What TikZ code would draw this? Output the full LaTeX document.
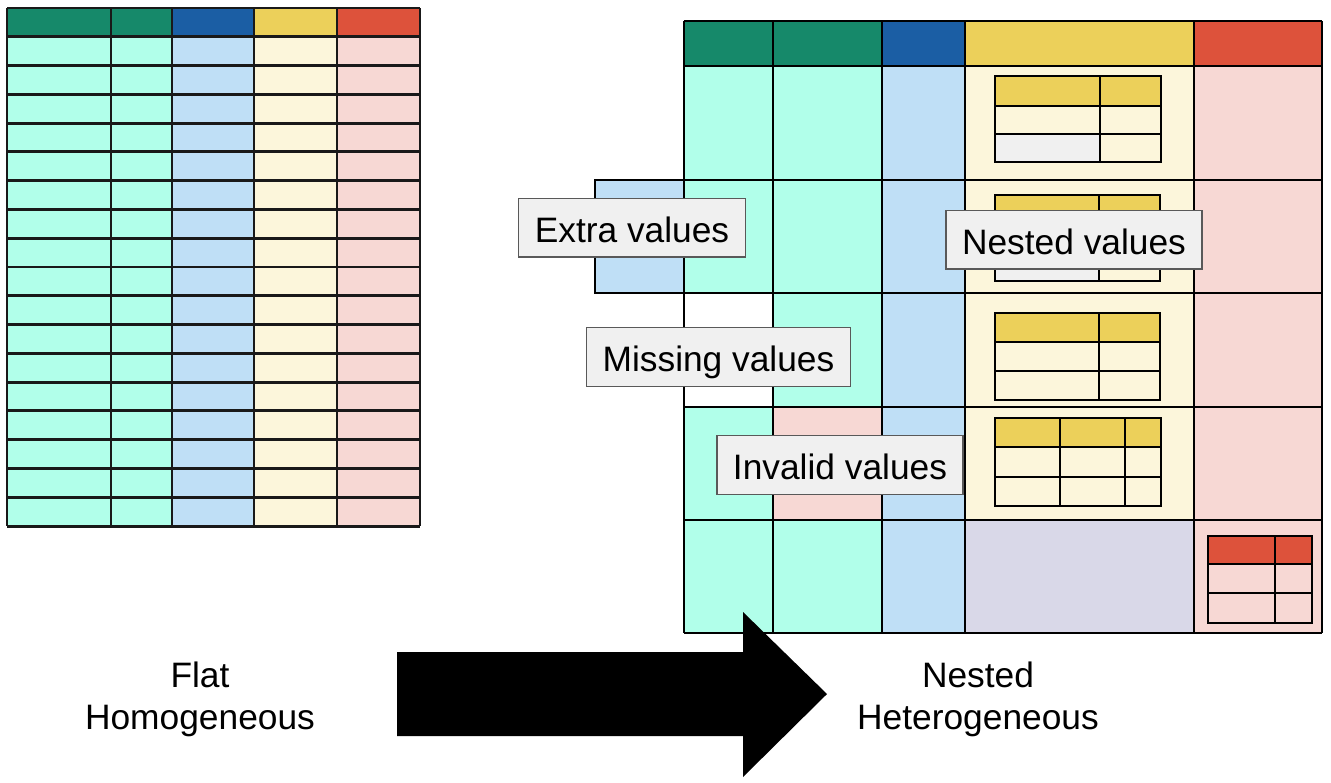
\documentclass[tikz,border=0pt]{standalone}
\usepackage{fontspec}
\setmainfont{Liberation Sans}
\definecolor{darkgreen}{RGB}{22,137,106}
\definecolor{darkblue}{RGB}{27,94,164}
\definecolor{darkyellow}{RGB}{236,208,90}
\definecolor{darkred}{RGB}{221,82,59}
\definecolor{lightgreen}{RGB}{177,255,234}
\definecolor{lightblue}{RGB}{191,223,246}
\definecolor{lightyellow}{RGB}{252,246,219}
\definecolor{lightred}{RGB}{247,216,212}
\definecolor{lavender}{RGB}{217,216,232}
\definecolor{lightgray}{RGB}{240,240,240}
\tikzset{
  flatline/.style={line width=2.2pt, color=black!90},
  gridline/.style={line width=1.5pt, color=black},
  innerline/.style={line width=1.8pt, color=black},
  callout/.style={draw=black!65, line width=1pt, fill=lightgray, inner xsep=12pt,
    text height=22pt, text depth=0pt, minimum height=44pt, font=\fontsize{26.5}{31.5}\selectfont},
  caption/.style={align=center, font=\fontsize{26.5}{31.5}\selectfont}
}
\begin{document}
\begin{tikzpicture}[x=0.75pt,y=0.75pt,yscale=-1,xscale=1]
\useasboundingbox (0,0) rectangle (1331,782);

%Flat table: column fills
\foreach \xa/\xb/\hd/\bd in {7/111/darkgreen/lightgreen, 111/172/darkgreen/lightgreen, 172/254/darkblue/lightblue, 254/337/darkyellow/lightyellow, 337/420/darkred/lightred}{
  \fill [\hd] (\xa,8) rectangle (\xb,36.78) ;
  \fill [\bd] (\xa,36.78) rectangle (\xb,526) ;
}
%Flat table: grid
\foreach \i in {0,...,18}
  \draw [flatline] (7,8+\i*28.78) -- (420,8+\i*28.78) ;
\foreach \x in {7,111,172,254,337,420}
  \draw [flatline] (\x,8) -- (\x,526) ;

%Nested table: header row
\fill [darkgreen] (684,21) rectangle (882,66) ;
\fill [darkblue] (882,21) rectangle (965,66) ;
\fill [darkyellow] (965,21) rectangle (1194,66) ;
\fill [darkred] (1194,21) rectangle (1322,66) ;
%Nested table: column bodies
\fill [lightgreen] (684,66) rectangle (882,633) ;
\fill [lightblue] (882,66) rectangle (965,633) ;
\fill [lightyellow] (965,66) rectangle (1194,633) ;
\fill [lightred] (1194,66) rectangle (1322,633) ;
%Odd cells
\fill [lightblue] (595,180) rectangle (684,293) ;
\fill [white] (684,293) rectangle (773,407) ;
\fill [lightred] (773,407) rectangle (882,520) ;
\fill [lavender] (965,520) rectangle (1194,633) ;

%Nested table: grid
\foreach \y in {21,66,180,293,407,520,633}
  \draw [gridline] (684,\y) -- (1322,\y) ;
\foreach \x in {684,773,882,965,1194,1322}
  \draw [gridline] (\x,21) -- (\x,633) ;
\draw [gridline] (684,180) -- (595,180) -- (595,293) -- (684,293) ;

%Inner table 1
\fill [darkyellow] (995,76) rectangle (1161,106) ;
\fill [lightgray] (995,134) rectangle (1100,162) ;
\draw [innerline] (995,76) rectangle (1161,162) (995,106) -- (1161,106) (995,134) -- (1161,134) (1100,76) -- (1100,162) ;
%Inner table 2
\fill [darkyellow] (995,195) rectangle (1160,224) ;
\fill [lightgray] (995,252) rectangle (1099,281) ;
\draw [innerline] (995,195) rectangle (1160,281) (995,224) -- (1160,224) (995,252) -- (1160,252) (1099,195) -- (1099,281) ;
%Inner table 3
\fill [darkyellow] (995,313) rectangle (1160,342) ;
\draw [innerline] (995,313) rectangle (1160,400) (995,342) -- (1160,342) (995,371) -- (1160,371) (1099,313) -- (1099,400) ;
%Inner table 4
\fill [darkyellow] (995,418) rectangle (1161,447) ;
\draw [innerline] (995,418) rectangle (1161,506) (995,447) -- (1161,447) (995,477) -- (1161,477) (1060,418) -- (1060,506) (1125,418) -- (1125,506) ;
%Inner table 5
\fill [darkred] (1208,536) rectangle (1312,564) ;
\draw [innerline] (1208,536) rectangle (1312,623) (1208,564) -- (1312,564) (1208,593) -- (1312,593) (1275,536) -- (1275,623) ;

%Block Arrow
\fill [black] (397,652) -- (743,652) -- (743,612) -- (827,694) -- (743,777) -- (743,736) -- (397,736) -- cycle ;

% Text Node
\node [callout] (extra) at (632,227.5) {Extra values};
% Text Node
\node [callout] (missing) at (718.5,357) {Missing values};
% Text Node
\node [callout] (nested) at (1074,239.5) {Nested values};
% Text Node
\node [callout] (invalid) at (840,465) {Invalid values};
% Text Node
\node [caption] (flat) at (200,699) {Flat\\Homogeneous};
% Text Node
\node [caption] (hetero) at (978,699) {Nested\\Heterogeneous};

\end{tikzpicture}
\end{document}
